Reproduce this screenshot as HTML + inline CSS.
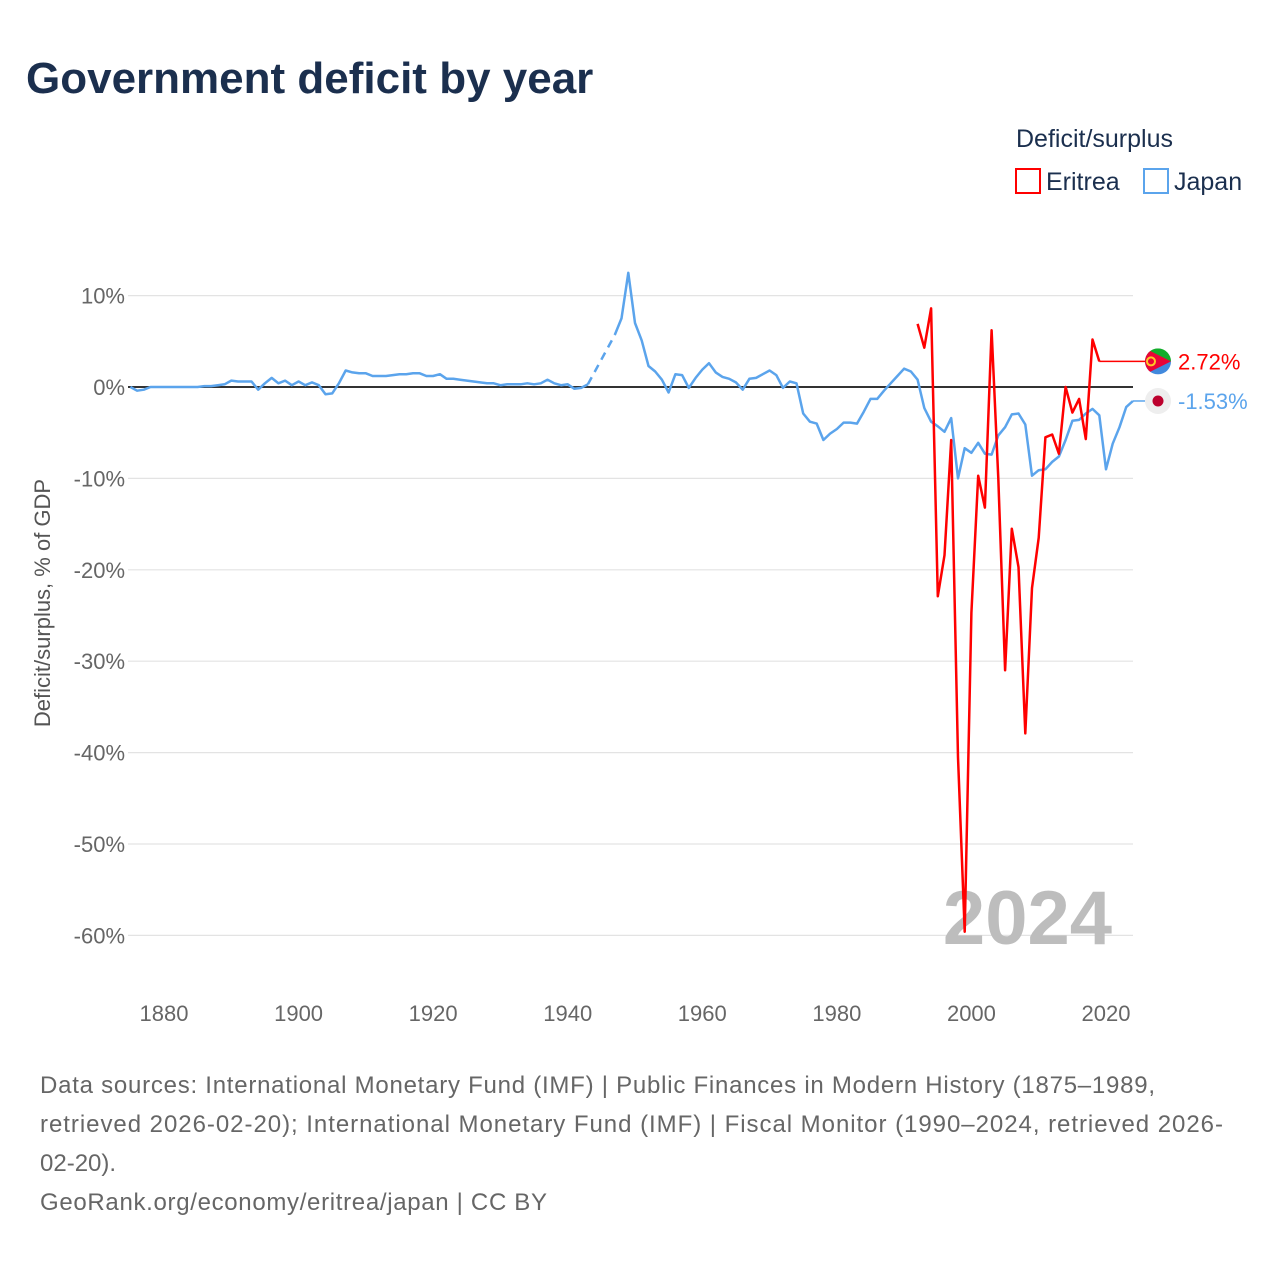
<!DOCTYPE html>
<html><head><meta charset="utf-8"><style>
body{margin:0;background:#fff;font-family:"Liberation Sans",sans-serif;}
#wrap{position:relative;width:1280px;height:1280px;overflow:hidden;}
</style></head><body>
<div id="wrap">
<svg id="chart" width="1280" height="1280" style="position:absolute;left:0;top:0">
<defs><clipPath id="fc"><circle cx="1158" cy="361" r="13"/></clipPath></defs>
<text x="26" y="93" font-size="44" font-weight="bold" fill="#1b2f4e">Government deficit by year</text>
<text x="1016" y="147" font-size="25" fill="#1b2f4e">Deficit/surplus</text>
<g><rect x="1016" y="169" width="24" height="24" fill="none" stroke="#f00" stroke-width="2"/><text x="1046" y="190" font-size="25" fill="#1b2f4e">Eritrea</text></g>
<g><rect x="1144" y="169" width="24" height="24" fill="none" stroke="#5ba4ec" stroke-width="2"/><text x="1174" y="190" font-size="25" fill="#1b2f4e">Japan</text></g>
<text transform="translate(50,603) rotate(-90)" text-anchor="middle" font-size="22" fill="#555">Deficit/surplus, % of GDP</text>
<g id="grid"></g><g id="xticks"></g>
<text x="1112" y="944" text-anchor="end" font-size="76" font-weight="bold" fill="#bdbdbd">2024</text>
<g id="series"></g>
<g font-size="24" fill="#666">
<text x="40" y="1093" textLength="1115" lengthAdjust="spacing">Data sources: International Monetary Fund (IMF) | Public Finances in Modern History (1875–1989,</text>
<text x="40" y="1132" textLength="1183" lengthAdjust="spacing">retrieved 2026-02-20); International Monetary Fund (IMF) | Fiscal Monitor (1990–2024, retrieved 2026-</text>
<text x="40" y="1171">02-20).</text>
<text x="40" y="1210" textLength="507" lengthAdjust="spacing">GeoRank.org/economy/eritrea/japan | CC BY</text>
</g>
</svg>
</div>
<script>
const yTicks=[10,0,-10,-20,-30,-40,-50,-60];
const xTicks=[1880,1900,1920,1940,1960,1980,2000,2020];
const japanYears=[1875,1876,1877,1878,1879,1880,1881,1882,1883,1884,1885,1886,1887,1888,1889,1890,1891,1892,1893,1894,1895,1896,1897,1898,1899,1900,1901,1902,1903,1904,1905,1906,1907,1908,1909,1910,1911,1912,1913,1914,1915,1916,1917,1918,1919,1920,1921,1922,1923,1924,1925,1926,1927,1928,1929,1930,1931,1932,1933,1934,1935,1936,1937,1938,1939,1940,1941,1942,1943,1947,1948,1949,1950,1951,1952,1953,1954,1955,1956,1957,1958,1959,1960,1961,1962,1963,1964,1965,1966,1967,1968,1969,1970,1971,1972,1973,1974,1975,1976,1977,1978,1979,1980,1981,1982,1983,1984,1985,1986,1987,1988,1989,1990,1991,1992,1993,1994,1995,1996,1997,1998,1999,2000,2001,2002,2003,2004,2005,2006,2007,2008,2009,2010,2011,2012,2013,2014,2015,2016,2017,2018,2019,2020,2021,2022,2023,2024];
const japanValues=[0.0,-0.4,-0.3,0.0,0,0,0,0,0,0,0,0.1,0.1,0.2,0.3,0.7,0.6,0.6,0.6,-0.3,0.4,1.0,0.4,0.7,0.2,0.6,0.2,0.5,0.2,-0.8,-0.7,0.4,1.8,1.6,1.5,1.5,1.2,1.2,1.2,1.3,1.4,1.4,1.5,1.5,1.2,1.2,1.4,0.9,0.9,0.8,0.7,0.6,0.5,0.4,0.4,0.2,0.3,0.3,0.3,0.4,0.3,0.4,0.8,0.4,0.2,0.3,-0.2,-0.1,0.3,5.7,7.5,12.5,7.0,5.1,2.3,1.7,0.8,-0.6,1.4,1.3,-0.1,1.0,1.9,2.6,1.6,1.1,0.9,0.5,-0.3,0.9,1.0,1.4,1.8,1.3,-0.1,0.6,0.4,-2.9,-3.8,-4.0,-5.8,-5.1,-4.6,-3.9,-3.9,-4.0,-2.7,-1.3,-1.3,-0.4,0.4,1.2,2.0,1.7,0.8,-2.3,-3.8,-4.3,-4.9,-3.4,-10.0,-6.7,-7.2,-6.1,-7.3,-7.4,-5.3,-4.4,-3.0,-2.9,-4.1,-9.7,-9.1,-9.0,-8.2,-7.6,-5.8,-3.7,-3.6,-2.9,-2.4,-3.1,-9.0,-6.2,-4.4,-2.2,-1.53];
const eritreaYears=[1992,1993,1994,1995,1996,1997,1998,1999,2000,2001,2002,2003,2004,2005,2006,2007,2008,2009,2010,2011,2012,2013,2014,2015,2016,2017,2018,2019];
const eritreaValues=[6.9,4.3,8.6,-22.9,-18.4,-5.8,-40.5,-59.6,-24.7,-9.7,-13.2,6.2,-10,-31.0,-15.5,-19.7,-37.9,-22.0,-16.5,-5.5,-5.2,-7.3,0.0,-2.8,-1.3,-5.7,5.2,2.8];
const eritreaLatest=2.72, japanLatest=-1.53;
const X=y=>164+(y-1880)*6.7286;
const Y=v=>387-v*9.14;
const NS='http://www.w3.org/2000/svg';
function mk(tag,attrs,parent){const e=document.createElementNS(NS,tag);for(const k in attrs)e.setAttribute(k,attrs[k]);parent.appendChild(e);return e;}
const grid=document.getElementById('grid');
yTicks.forEach(t=>{
  const l=mk('line',{x1:128,x2:1133,y1:Y(t),y2:Y(t),stroke:t===0?'#333':'#e3e3e3','stroke-width':t===0?2:1.2},grid);
  
  
  const tx=mk('text',{x:125,y:Y(t)+8,'text-anchor':'end','font-size':22,fill:'#666'},grid);
  tx.textContent=t+'%';
  
  
});
const xg=document.getElementById('xticks');
xTicks.forEach(t=>{
  const tx=mk('text',{x:X(t),y:1021,'text-anchor':'middle','font-size':22,fill:'#666'},xg);
  tx.textContent=t;
  
  
});
const sg=document.getElementById('series');
function draw(years,vals,color,name){
  let segs=[[]],dashes=[];
  for(let i=0;i<years.length;i++){
    if(i>0&&years[i]-years[i-1]>1){dashes.push([i-1,i]);segs.push([]);}
    segs[segs.length-1].push(X(years[i]).toFixed(1)+','+Y(vals[i]).toFixed(1));
  }
  segs.forEach(s=>{
    const p=mk('polyline',{points:s.join(' '),fill:'none',stroke:color,'stroke-width':2.5,'stroke-linejoin':'round'},sg);
    
    
  });
  dashes.forEach(d=>{
    const l=mk('line',{x1:X(years[d[0]]),y1:Y(vals[d[0]]),x2:X(years[d[1]]),y2:Y(vals[d[1]]),stroke:color,'stroke-width':2.5,'stroke-dasharray':'8,6'},sg);
    
    
  });
}
draw(japanYears,japanValues,'#5ba4ec','japan');
draw(eritreaYears,eritreaValues,'#f00','eritrea');
const ex=X(eritreaYears[eritreaYears.length-1]), ey=Y(eritreaValues[eritreaValues.length-1]);
const c1=mk('line',{x1:ex,y1:ey,x2:1145,y2:ey,stroke:'#f00','stroke-width':1.5},sg);


const jx=X(2024), jy=Y(japanLatest);
const c2=mk('line',{x1:jx,y1:jy,x2:1145,y2:jy,stroke:'#5ba4ec','stroke-width':1.5},sg);


document.querySelector('#fc circle').setAttribute('cy',ey);
const f1=mk('g',{'clip-path':'url(#fc)'},sg);


mk('rect',{x:1145,y:ey,width:26,height:13,fill:'#4189dd'},f1);
mk('rect',{x:1145,y:ey-13,width:26,height:13,fill:'#12ad2b'},f1);
mk('path',{d:`M1145,${ey-13} L1171,${ey} L1145,${ey+13} Z`,fill:'#ea0437'},f1);
mk('circle',{cx:1151,cy:ey,r:4,fill:'none',stroke:'#ffc726','stroke-width':2},f1);
const f2=mk('g',{},sg);


mk('circle',{cx:1158,cy:jy,r:13,fill:'#eee'},f2);
mk('circle',{cx:1158,cy:jy,r:5.5,fill:'#bc002d'},f2);
const l1=mk('text',{x:1178,y:ey+8,'font-size':22,fill:'#f00'},sg);
l1.textContent=eritreaLatest.toFixed(2)+'%';


const l2=mk('text',{x:1178,y:jy+8,'font-size':22,fill:'#5ba4ec'},sg);
l2.textContent=japanLatest.toFixed(2)+'%';


</script>
</body></html>
